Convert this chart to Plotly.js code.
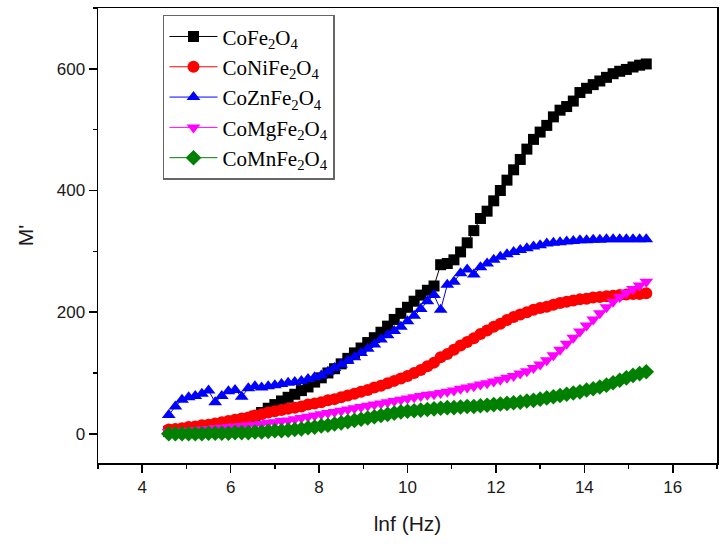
<!DOCTYPE html>
<html>
<head>
<meta charset="utf-8">
<script src="https://cdn.plot.ly/plotly-3.0.1.min.js"></script>
<style>
  html, body { margin: 0; padding: 0; background: #fff; }
  #chart { width: 723px; height: 547px; }
</style>
</head>
<body>
<div id="chart"></div>
<script>
// ln f (Hz) measurement grid shared by all samples
const lnf = [
  4.60, 4.75, 4.90, 5.05, 5.20, 5.35, 5.50, 5.65, 5.80, 5.95,
  6.10, 6.25, 6.40, 6.55, 6.70, 6.85, 7.00, 7.15, 7.30, 7.45,
  7.60, 7.75, 7.90, 8.05, 8.20, 8.35, 8.50, 8.65, 8.80, 8.95,
  9.10, 9.25, 9.40, 9.55, 9.70, 9.85, 10.00, 10.15, 10.30, 10.45,
  10.60, 10.75, 10.90, 11.05, 11.20, 11.35, 11.50, 11.65, 11.80, 11.95,
  12.10, 12.25, 12.40, 12.55, 12.70, 12.85, 13.00, 13.15, 13.30, 13.45,
  13.60, 13.75, 13.90, 14.05, 14.20, 14.35, 14.50, 14.65, 14.80, 14.95,
  15.10, 15.25, 15.40
];

// Real part of the electric modulus, M'
const mCoFe = [
  4, 5, 5, 6, 7, 8, 9, 11, 13, 15,
  18, 21, 25, 29, 35, 42, 48, 54, 60, 65,
  71, 77, 85, 92, 100, 107, 115, 124, 133, 141,
  150, 158, 167, 177, 188, 198, 208, 218, 228, 236,
  243, 278, 280, 286, 299, 314, 334, 354, 366, 383,
  400, 417, 434, 451, 468, 484, 496, 507, 521, 532,
  538, 547, 561, 568, 574, 580, 586, 592, 596, 599,
  603, 606, 608
];
const mCoNiFe = [
  7, 8, 9, 11, 12, 14, 15, 17, 19, 21,
  23, 25, 27, 30, 32, 35, 37, 39, 41, 43,
  45, 48, 50, 52, 55, 57, 60, 63, 66, 69,
  72, 76, 79, 83, 87, 91, 95, 100, 105, 111,
  117, 126, 131, 138, 145, 151, 157, 164, 170, 176,
  181, 187, 192, 196, 200, 204, 207, 209, 212, 215,
  217, 219, 221, 222, 224, 225, 226, 227, 228, 229,
  230, 230, 231
];
const mCoZnFe = [
  31, 45, 56, 60, 62, 66, 71, 52, 62, 70,
  72, 61, 75, 78, 76, 78, 80, 82, 84, 85,
  87, 90, 93, 96, 102, 108, 114, 120, 126, 133,
  140, 147, 155, 162, 169, 176, 185, 194, 205, 218,
  228, 204, 245, 250, 264, 270, 262, 274, 280, 286,
  291, 295, 299, 302, 305, 308, 310, 313, 314, 315,
  316, 317, 318, 318, 319, 319, 320, 320, 320, 320,
  320, 320, 320
];
const mCoMgFe = [
  3, 4, 4, 5, 6, 7, 8, 9, 10, 11,
  12, 13, 14, 15, 16, 18, 19, 21, 22, 24,
  26, 28, 30, 32, 34, 36, 38, 40, 42, 44,
  46, 48, 50, 52, 54, 56, 58, 60, 62, 64,
  65, 67, 69, 71, 74, 76, 78, 81, 83, 86,
  89, 92, 95, 99, 103, 108, 114, 121, 129, 138,
  148, 158, 168, 178, 188, 198, 208, 217, 225, 232,
  238, 244, 250
];
const mCoMnFe = [
  0, 0, 0, 0, 0, 0, 1, 1, 1, 1,
  2, 2, 2, 3, 3, 4, 5, 5, 6, 7,
  8, 10, 11, 13, 14, 16, 18, 20, 22, 24,
  26, 28, 30, 32, 34, 36, 37, 38, 39, 40,
  41, 42, 43, 43, 44, 45, 45, 46, 47, 48,
  49, 50, 51, 52, 54, 55, 57, 59, 61, 63,
  65, 67, 69, 72, 74, 77, 80, 84, 88, 92,
  96, 99, 102
];

const seriesNames = [
  'CoFe<sub>2</sub>O<sub>4</sub>',
  'CoNiFe<sub>2</sub>O<sub>4</sub>',
  'CoZnFe<sub>2</sub>O<sub>4</sub>',
  'CoMgFe<sub>2</sub>O<sub>4</sub>',
  'CoMnFe<sub>2</sub>O<sub>4</sub>'
];
const seriesValues = [mCoFe, mCoNiFe, mCoZnFe, mCoMgFe, mCoMnFe];
const seriesColors = ['#000000', '#ff0000', '#0000ff', '#ff00ff', '#008000'];
const seriesSymbols = ['square', 'circle', 'triangle-up', 'triangle-down', 'diamond'];
const seriesSizes = [11, 12, 12, 12, 12];

const traces = seriesValues.map((ys, i) => ({
  type: 'scatter',
  mode: 'lines+markers',
  name: seriesNames[i],
  x: lnf,
  y: ys,
  line: { color: seriesColors[i], width: 1 },
  marker: { color: seriesColors[i], symbol: seriesSymbols[i], size: seriesSizes[i], line: { width: 0 } }
}));

const sansFont = 'Liberation Sans, Arial, sans-serif';

const axisCommon = {
  showline: true,
  linecolor: '#000',
  linewidth: 1.5,
  mirror: true,
  ticks: 'outside',
  ticklen: 8,
  tickwidth: 1.5,
  tickcolor: '#000',
  showgrid: false,
  zeroline: false,
  tickfont: { family: sansFont, size: 17, color: '#1a1a1a' }
};

const layout = {
  width: 723,
  height: 547,
  margin: { l: 98, r: 6, t: 8, b: 84 },
  paper_bgcolor: '#fff',
  plot_bgcolor: '#fff',
  showlegend: true,
  xaxis: Object.assign({}, axisCommon, {
    range: [3, 17],
    tick0: 0,
    dtick: 2,
    minor: { ticks: 'outside', ticklen: 4, tickwidth: 1.5, tickcolor: '#000', dtick: 1, tick0: 0 },
    title: { text: 'lnf (Hz)', standoff: 20,
             font: { family: sansFont, size: 21, color: '#1a1a1a' } }
  }),
  yaxis: Object.assign({}, axisCommon, {
    range: [-48, 700],
    tick0: 0,
    dtick: 200,
    minor: { ticks: 'outside', ticklen: 4, tickwidth: 1.5, tickcolor: '#000', dtick: 100, tick0: 0 },
    title: { text: "M'", standoff: 17,
             font: { family: sansFont, size: 21, color: '#1a1a1a' } }
  }),
  legend: {
    x: 0.105,
    y: 0.985,
    xanchor: 'left',
    yanchor: 'top',
    bgcolor: '#fff',
    bordercolor: '#666',
    borderwidth: 1.5,
    font: { family: 'Liberation Serif, Times New Roman, serif', size: 21, color: '#000' },
    itemwidth: 48,
    tracegroupgap: 0
  }
};

Plotly.newPlot('chart', traces, layout, { displayModeBar: false, staticPlot: true });
</script>
</body>
</html>
